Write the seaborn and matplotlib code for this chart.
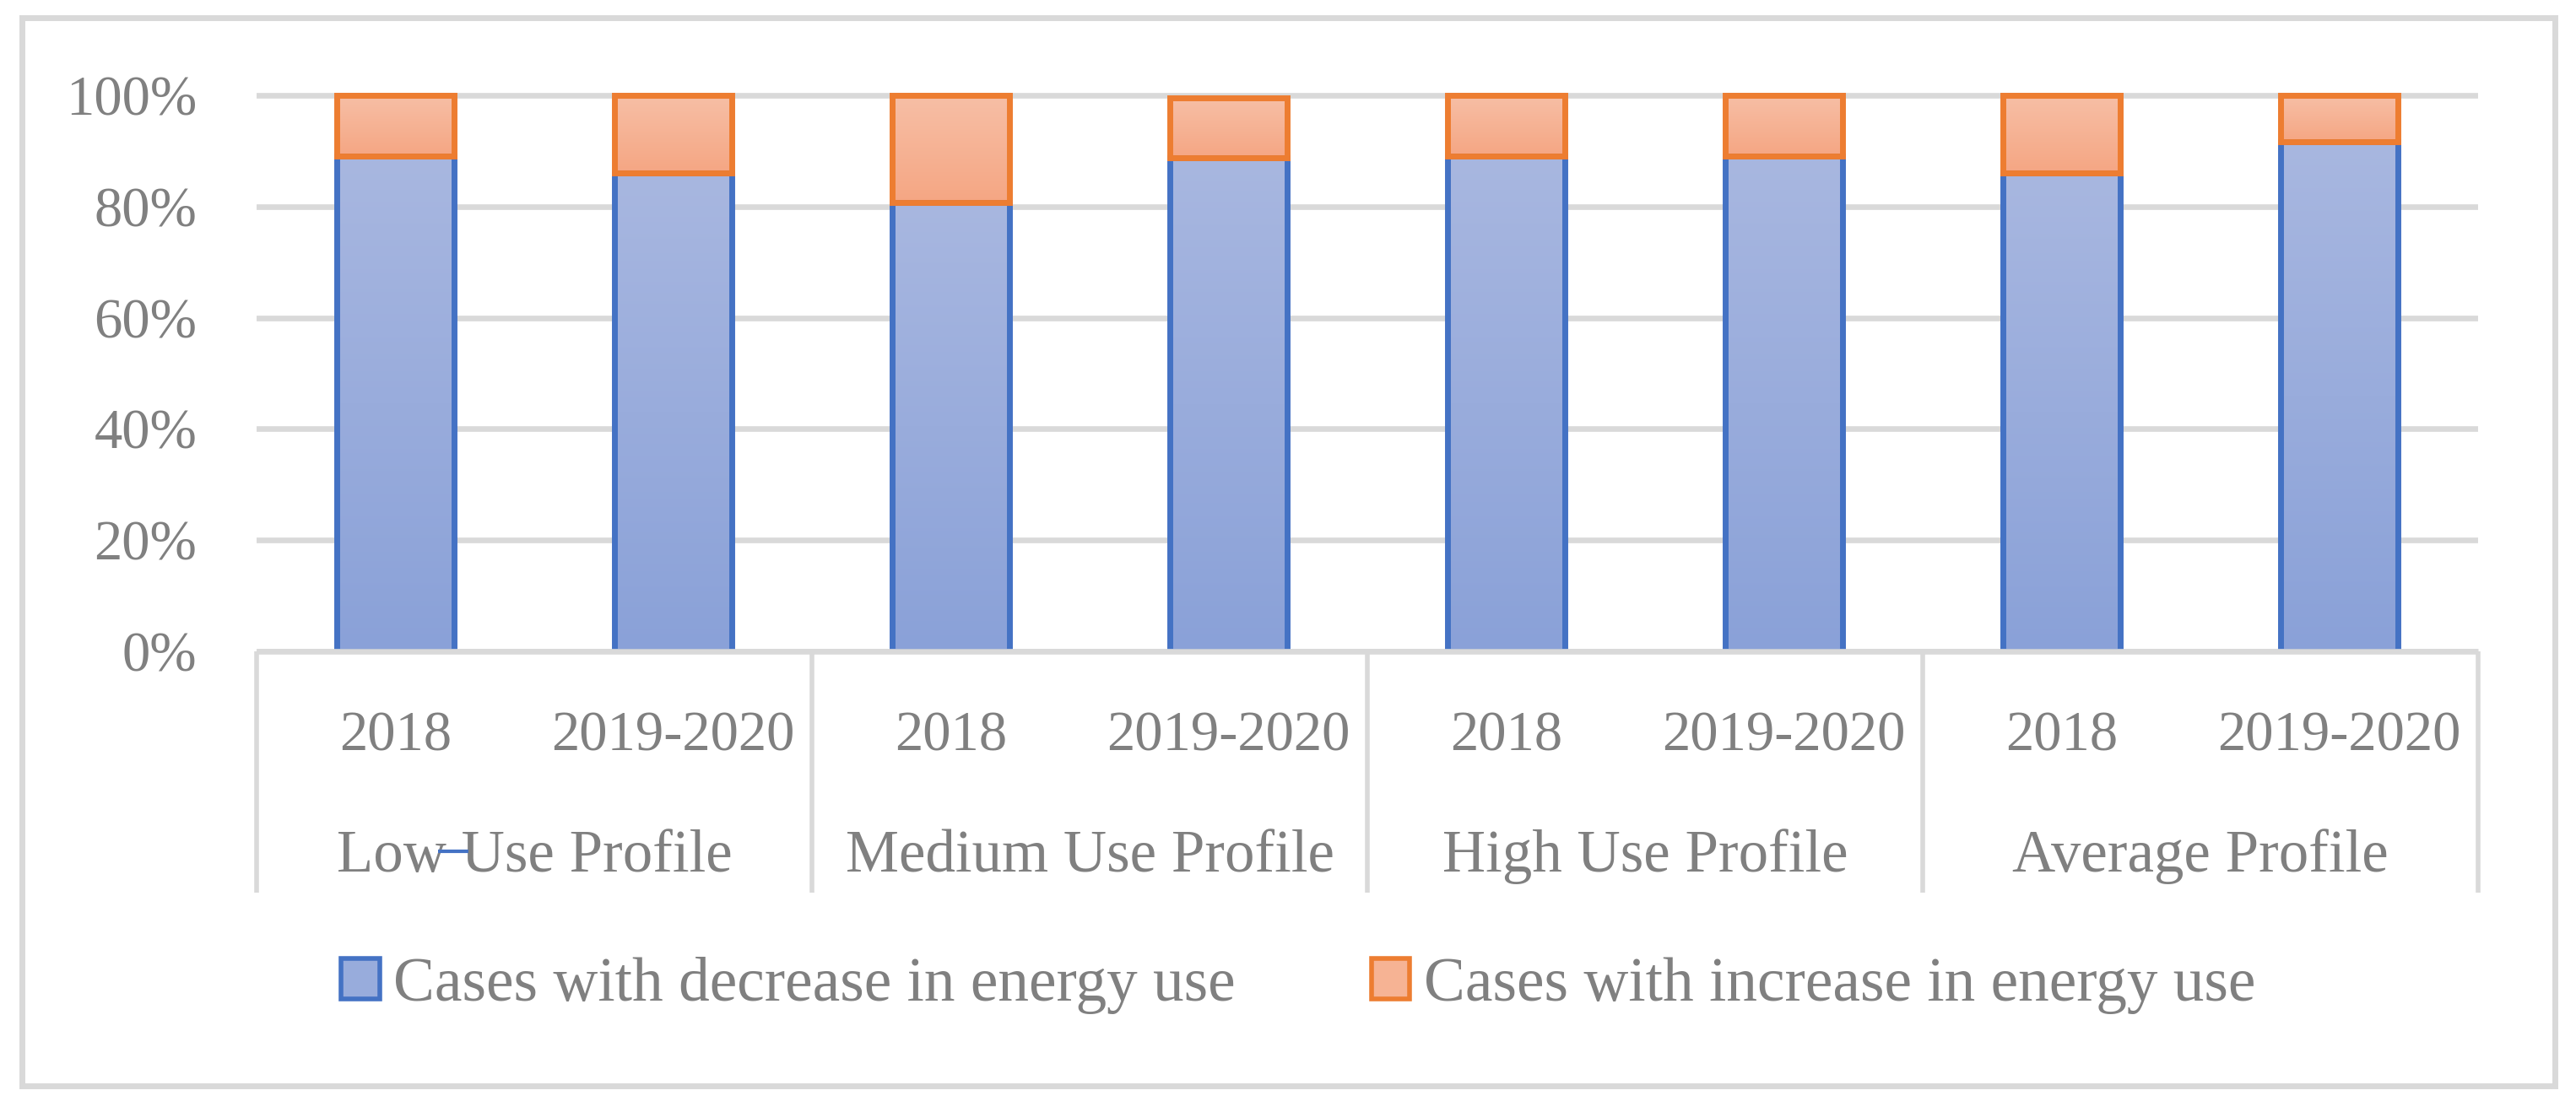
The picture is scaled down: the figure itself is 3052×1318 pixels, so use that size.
import numpy as np
import pandas as pd
import matplotlib
matplotlib.use("Agg")
import matplotlib.pyplot as plt
from matplotlib.colors import LinearSegmentedColormap
from matplotlib.patches import Patch, Rectangle
import seaborn as sns

# ---- data ----
groups = ["Low Use Profile", "Medium Use Profile", "High Use Profile", "Average Profile"]
periods = ["2018", "2019-2020"]
decrease = [89.0, 86.0, 80.8, 88.8, 89.0, 89.0, 86.0, 91.7]
increase = [11.0, 14.0, 19.2, 10.7, 11.0, 11.0, 14.0, 8.3]
yticks = [0, 20, 40, 60, 80, 100]
ytick_labels = ["0%", "20%", "40%", "60%", "80%", "100%"]
series_names = ["Cases with decrease in energy use", "Cases with increase in energy use"]

slots = [f"{g}|{p}" for g in groups for p in periods]
df = pd.DataFrame({"slot": slots, "decrease": decrease, "increase": increase})

# ---- style ----
sns.set_theme(style="white")
plt.rcParams["font.family"] = ["Liberation Serif", "DejaVu Serif"]
TXT = "#808080"
GRID = "#D9D9D9"
BLUE_EDGE = "#4472C4"
ORANGE_EDGE = "#ED7D31"
BLUE_GRAD = ("#A8B7E0", "#8AA1D8")
ORANGE_GRAD = ("#F7BFA6", "#F5A683")

W, H, DPI = 3052, 1318, 200
fig = plt.figure(figsize=(W / DPI, H / DPI), dpi=DPI)

px_per_unit = (772 - 113) / 100.0
ytop = 102
ax_left = 304 / W
ax_width = (2936 - 304) / W
ax_bottom = (H - 772) / H
ax_height = ytop * px_per_unit / H
ax = fig.add_axes([ax_left, ax_bottom, ax_width, ax_height])

bar_w = 0.42
lw_edge = 2.5
sns.barplot(data=df, x="slot", y="decrease", order=slots, color=BLUE_GRAD[1],
            width=bar_w, saturation=1, edgecolor=BLUE_EDGE, linewidth=lw_edge,
            ax=ax, zorder=3)
n_first = len(ax.patches)
sns.barplot(data=df, x="slot", y="increase", order=slots, color=ORANGE_GRAD[1],
            width=bar_w, saturation=1, edgecolor=ORANGE_EDGE, linewidth=lw_edge,
            ax=ax, zorder=3)
blue_patches = ax.patches[:n_first]
orange_patches = ax.patches[n_first:]
for p, d in zip(orange_patches, decrease):
    p.set_y(d)

# gradient fills
def grad_fill(patch, ctop, cbot):
    x0, y0 = patch.get_x(), patch.get_y()
    w, h = patch.get_width(), patch.get_height()
    cmap = LinearSegmentedColormap.from_list("g", [ctop, cbot])
    g = np.linspace(0, 1, 256)[:, None]
    im = ax.imshow(g, extent=[x0, x0 + w, y0, y0 + h], origin="upper", cmap=cmap,
                   aspect="auto", zorder=2.9, interpolation="bilinear")
    im.set_clip_path(patch)
    patch.set_facecolor("none")

for p in blue_patches:
    grad_fill(p, *BLUE_GRAD)
for p in orange_patches:
    grad_fill(p, *ORANGE_GRAD)

ax.set_xlim(-0.5, len(slots) - 0.5)
ax.set_ylim(0, ytop)
for s in ax.spines.values():
    s.set_visible(False)
ax.set_xlabel("")
ax.set_ylabel("")
ax.set_xticks([])
ax.set_yticks(yticks)
ax.set_yticklabels(ytick_labels)
ax.tick_params(axis="y", length=0, pad=25.5, labelsize=24, labelcolor=TXT)
ax.yaxis.grid(True, color=GRID, linewidth=2.4, zorder=0)
ax.set_axisbelow(True)
ax.patch.set_alpha(0)

# category box
sep_bottom = -(1058 - 772) / px_per_unit
ax.plot([-0.5, len(slots) - 0.5], [0, 0], color=GRID, lw=2.4, clip_on=False, zorder=5,
        solid_capstyle="butt")
for xs in [-0.5, 1.5, 3.5, 5.5, 7.5]:
    ax.plot([xs, xs], [0, sep_bottom], color=GRID, lw=2.0, clip_on=False, zorder=5,
            solid_capstyle="butt")

year_base = -(890 - 772) / px_per_unit
group_base = -(1033 - 772) / px_per_unit
for i, s in enumerate(slots):
    ax.text(i, year_base, s.split("|")[1], ha="center", va="baseline", fontsize=24,
            color=TXT, clip_on=False)
for gi, g in enumerate(groups):
    ax.text(gi * 2 + 0.5, group_base, g, ha="center", va="baseline", fontsize=25.5,
            color=TXT, clip_on=False)

# small blue stroke between "Low" and "Use"
ax.plot([(519 - 304) / 329 - 0.5, (555 - 304) / 329 - 0.5],
        [-(1009 - 772) / px_per_unit] * 2, color=BLUE_EDGE, lw=1.5, clip_on=False,
        zorder=6, solid_capstyle="butt")

# legend
handles = [Patch(facecolor="#98ACDC", edgecolor=BLUE_EDGE, linewidth=2.0),
           Patch(facecolor="#F6B394", edgecolor=ORANGE_EDGE, linewidth=2.0)]
fig.legend(handles, series_names, loc="center", bbox_to_anchor=(0.504, 1 - 1168 / H),
           ncol=2, frameon=False, fontsize=26.4, labelcolor=TXT,
           handlelength=0.62, handleheight=0.62, handletextpad=0.22,
           columnspacing=2.2)

# outer border
fig.patches.append(Rectangle((26 / W, 1 - 1287 / H), (3027 - 26) / W, (1287 - 21) / H,
                             transform=fig.transFigure, fill=False, edgecolor=GRID,
                             linewidth=2.5, zorder=0))

fig.savefig("out.png", dpi=DPI)
